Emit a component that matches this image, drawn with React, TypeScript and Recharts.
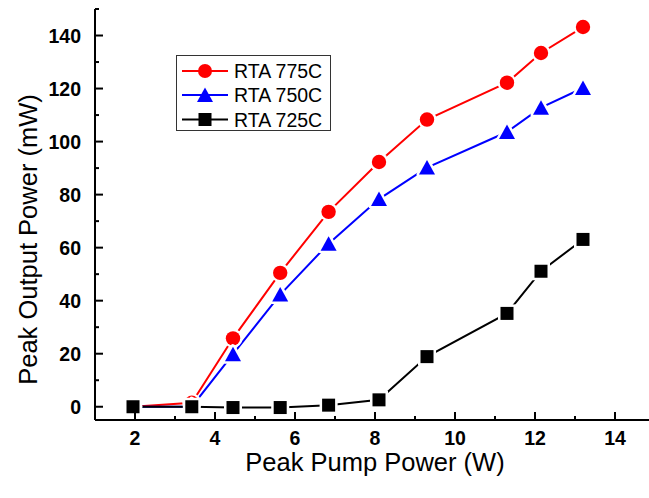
import React from "react";
import { LineChart, Line, XAxis, YAxis, Label } from "recharts";

// Peak pump power (W) at each measurement
const pumpPower = [1.95, 3.42, 4.45, 5.63, 6.84, 8.1, 9.3, 11.3, 12.15, 13.2];
// Peak output power (mW) for each anneal temperature
const rta775 = [0, 1.5, 25.8, 50.5, 73.5, 92.3, 108.3, 122.2, 133.4, 143.2];
const rta750 = [0, 0, 19.8, 42.3, 61.5, 78.3, 90.2, 103.6, 112.8, 120.2];
const rta725 = [0, 0, -0.3, -0.3, 0.6, 2.6, 18.9, 35.2, 51.1, 63.1];

const xTicks = [1, 2, 3, 4, 5, 6, 7, 8, 9, 10, 11, 12, 13, 14, 15];
const yTicks = [0, 10, 20, 30, 40, 50, 60, 70, 80, 90, 100, 110, 120, 130, 140, 150];

const data = pumpPower.map((p, i) => ({
  pump: p,
  r775: rta775[i],
  r750: rta750[i],
  r725: rta725[i],
}));

const FONT = "'Liberation Sans', Arial, Helvetica, sans-serif";
const MARGIN = 10;
const AXIS_W = 2;
const TICK_FONT = 19.5;

const BottomTick = ({ x, y, payload }: any) => {
  const major = payload.value % 2 === 0;
  const ay = y - MARGIN;
  return (
    <g>
      <line x1={x} x2={x} y1={ay} y2={ay - (major ? 8 : 4)} stroke="#000" strokeWidth={AXIS_W} />
      {major && (
        <text x={x} y={ay + 18} textAnchor="middle" dominantBaseline="central"
          fontFamily={FONT} fontWeight="bold" fontSize={TICK_FONT} fill="#000">
          {payload.value}
        </text>
      )}
    </g>
  );
};

const TopTick = ({ x, y, payload }: any) => {
  const major = payload.value % 2 === 0;
  const ay = y + MARGIN;
  return <line x1={x} x2={x} y1={ay} y2={ay + (major ? 8 : 4)} stroke="#000" strokeWidth={AXIS_W} />;
};

const LeftTick = ({ x, y, payload }: any) => {
  const major = payload.value % 20 === 0;
  const ax = x + MARGIN;
  return (
    <g>
      <line x1={ax} x2={ax + (major ? 8 : 4)} y1={y} y2={y} stroke="#000" strokeWidth={AXIS_W} />
      {major && (
        <text x={ax - 14} y={y} textAnchor="end" dominantBaseline="central"
          fontFamily={FONT} fontWeight="bold" fontSize={TICK_FONT} fill="#000">
          {payload.value}
        </text>
      )}
    </g>
  );
};

const RightTick = ({ x, y, payload }: any) => {
  const major = payload.value % 20 === 0;
  const ax = x - MARGIN;
  return <line x1={ax} x2={ax - (major ? 8 : 4)} y1={y} y2={y} stroke="#000" strokeWidth={AXIS_W} />;
};

const circleDot = (color: string) => (props: any) => {
  const { cx, cy, index } = props;
  return (
    <g key={`c-${index}`}>
      <circle cx={cx} cy={cy} r={9.5} fill="#fff" />
      <circle cx={cx} cy={cy} r={7.2} fill={color} />
    </g>
  );
};

const triPoints = (cx: number, cy: number) =>
  `${cx},${cy - 7.5} ${cx + 8},${cy + 7} ${cx - 8},${cy + 7}`;

const triangleDot = (color: string) => (props: any) => {
  const { cx, cy, index } = props;
  return (
    <g key={`t-${index}`}>
      <polygon points={triPoints(cx, cy)} fill="#fff" stroke="#fff" strokeWidth={5} strokeLinejoin="round" />
      <polygon points={triPoints(cx, cy)} fill={color} />
    </g>
  );
};

const squareDot = (color: string) => (props: any) => {
  const { cx, cy, index } = props;
  return (
    <g key={`s-${index}`}>
      <rect x={cx - 9} y={cy - 9} width={18} height={18} fill="#fff" />
      <rect x={cx - 6.5} y={cy - 6.5} width={13} height={13} fill={color} />
    </g>
  );
};

const legendItems = [
  { name: "RTA 775C", color: "#ff0000", shape: "circle" },
  { name: "RTA 750C", color: "#0000ff", shape: "triangle" },
  { name: "RTA 725C", color: "#000000", shape: "square" },
];

function ChartLegend() {
  const rows = [16, 40, 64.5];
  return (
    <svg width={156} height={77} style={{ position: "absolute", left: 176, top: 55 }}>
      <rect x={0.5} y={0.5} width={154} height={75} fill="#fff" stroke="#333" strokeWidth={1} />
      {legendItems.map((it, i) => {
        const cy = rows[i];
        const cx = 29;
        return (
          <g key={it.name}>
            <line x1={6} x2={52} y1={cy} y2={cy} stroke={it.color} strokeWidth={2} />
            {it.shape === "circle" && <circle cx={cx} cy={cy} r={7} fill={it.color} />}
            {it.shape === "triangle" && <polygon points={triPoints(cx, cy)} fill={it.color} />}
            {it.shape === "square" && <rect x={cx - 6.5} y={cy - 6.5} width={13} height={13} fill={it.color} />}
            <text x={58} y={cy} dominantBaseline="central" fontFamily={FONT} fontSize={19.5} fill="#000">
              {it.name}
            </text>
          </g>
        );
      })}
    </svg>
  );
}

export default function App() {
  return (
    <div style={{ position: "absolute", left: 0, top: 0, width: 649, height: 498, overflow: "hidden", background: "#fff" }}>
      <LineChart width={660} height={498} data={data} margin={{ top: 9, right: 5, left: 15, bottom: 0 }}>
        <XAxis
          xAxisId="bottom"
          dataKey="pump"
          type="number"
          domain={[1, 15]}
          ticks={xTicks}
          interval={0}
          height={78}
          tickSize={0}
          tickMargin={MARGIN}
          tick={<BottomTick />}
          axisLine={{ stroke: "#000", strokeWidth: AXIS_W }}
        >
          <Label
            content={({ viewBox }: any) => (
              <text x={viewBox.x + viewBox.width / 2} y={viewBox.y + 42} textAnchor="middle"
                dominantBaseline="central" fontFamily={FONT} fontSize={25.5} fill="#000">
                Peak Pump Power (W)
              </text>
            )}
          />
        </XAxis>
        <XAxis
          xAxisId="top"
          orientation="top"
          dataKey="pump"
          type="number"
          domain={[1, 15]}
          ticks={xTicks}
          interval={0}
          height={0}
          tickSize={0}
          tickMargin={MARGIN}
          tick={<TopTick />}
          axisLine={{ stroke: "#000", strokeWidth: AXIS_W }}
        />
        <YAxis
          yAxisId="left"
          type="number"
          domain={[-5, 150]}
          ticks={yTicks}
          interval={0}
          width={80}
          tickSize={0}
          tickMargin={MARGIN}
          tick={<LeftTick />}
          axisLine={{ stroke: "#000", strokeWidth: AXIS_W }}
        >
          <Label
            content={({ viewBox }: any) => {
              const cx = viewBox.x + 13;
              const cy = viewBox.y + viewBox.height / 2 + 25;
              return (
                <text x={cx} y={cy} transform={`rotate(-90 ${cx} ${cy})`} textAnchor="middle"
                  dominantBaseline="central" fontFamily={FONT} fontSize={25.5} fill="#000">
                  Peak Output Power (mW)
                </text>
              );
            }}
          />
        </YAxis>
        <YAxis
          yAxisId="right"
          orientation="right"
          type="number"
          domain={[-5, 150]}
          ticks={yTicks}
          interval={0}
          width={0}
          tickSize={0}
          tickMargin={MARGIN}
          tick={<RightTick />}
          axisLine={{ stroke: "#000", strokeWidth: AXIS_W }}
        />
        <Line xAxisId="bottom" yAxisId="left" type="linear" dataKey="r775" name="RTA 775C"
          stroke="#ff0000" strokeWidth={2} dot={circleDot("#ff0000")} activeDot={false} isAnimationActive={false} />
        <Line xAxisId="bottom" yAxisId="left" type="linear" dataKey="r750" name="RTA 750C"
          stroke="#0000ff" strokeWidth={2} dot={triangleDot("#0000ff")} activeDot={false} isAnimationActive={false} />
        <Line xAxisId="bottom" yAxisId="left" type="linear" dataKey="r725" name="RTA 725C"
          stroke="#000000" strokeWidth={2} dot={squareDot("#000000")} activeDot={false} isAnimationActive={false} />
      </LineChart>
      <ChartLegend />
    </div>
  );
}
